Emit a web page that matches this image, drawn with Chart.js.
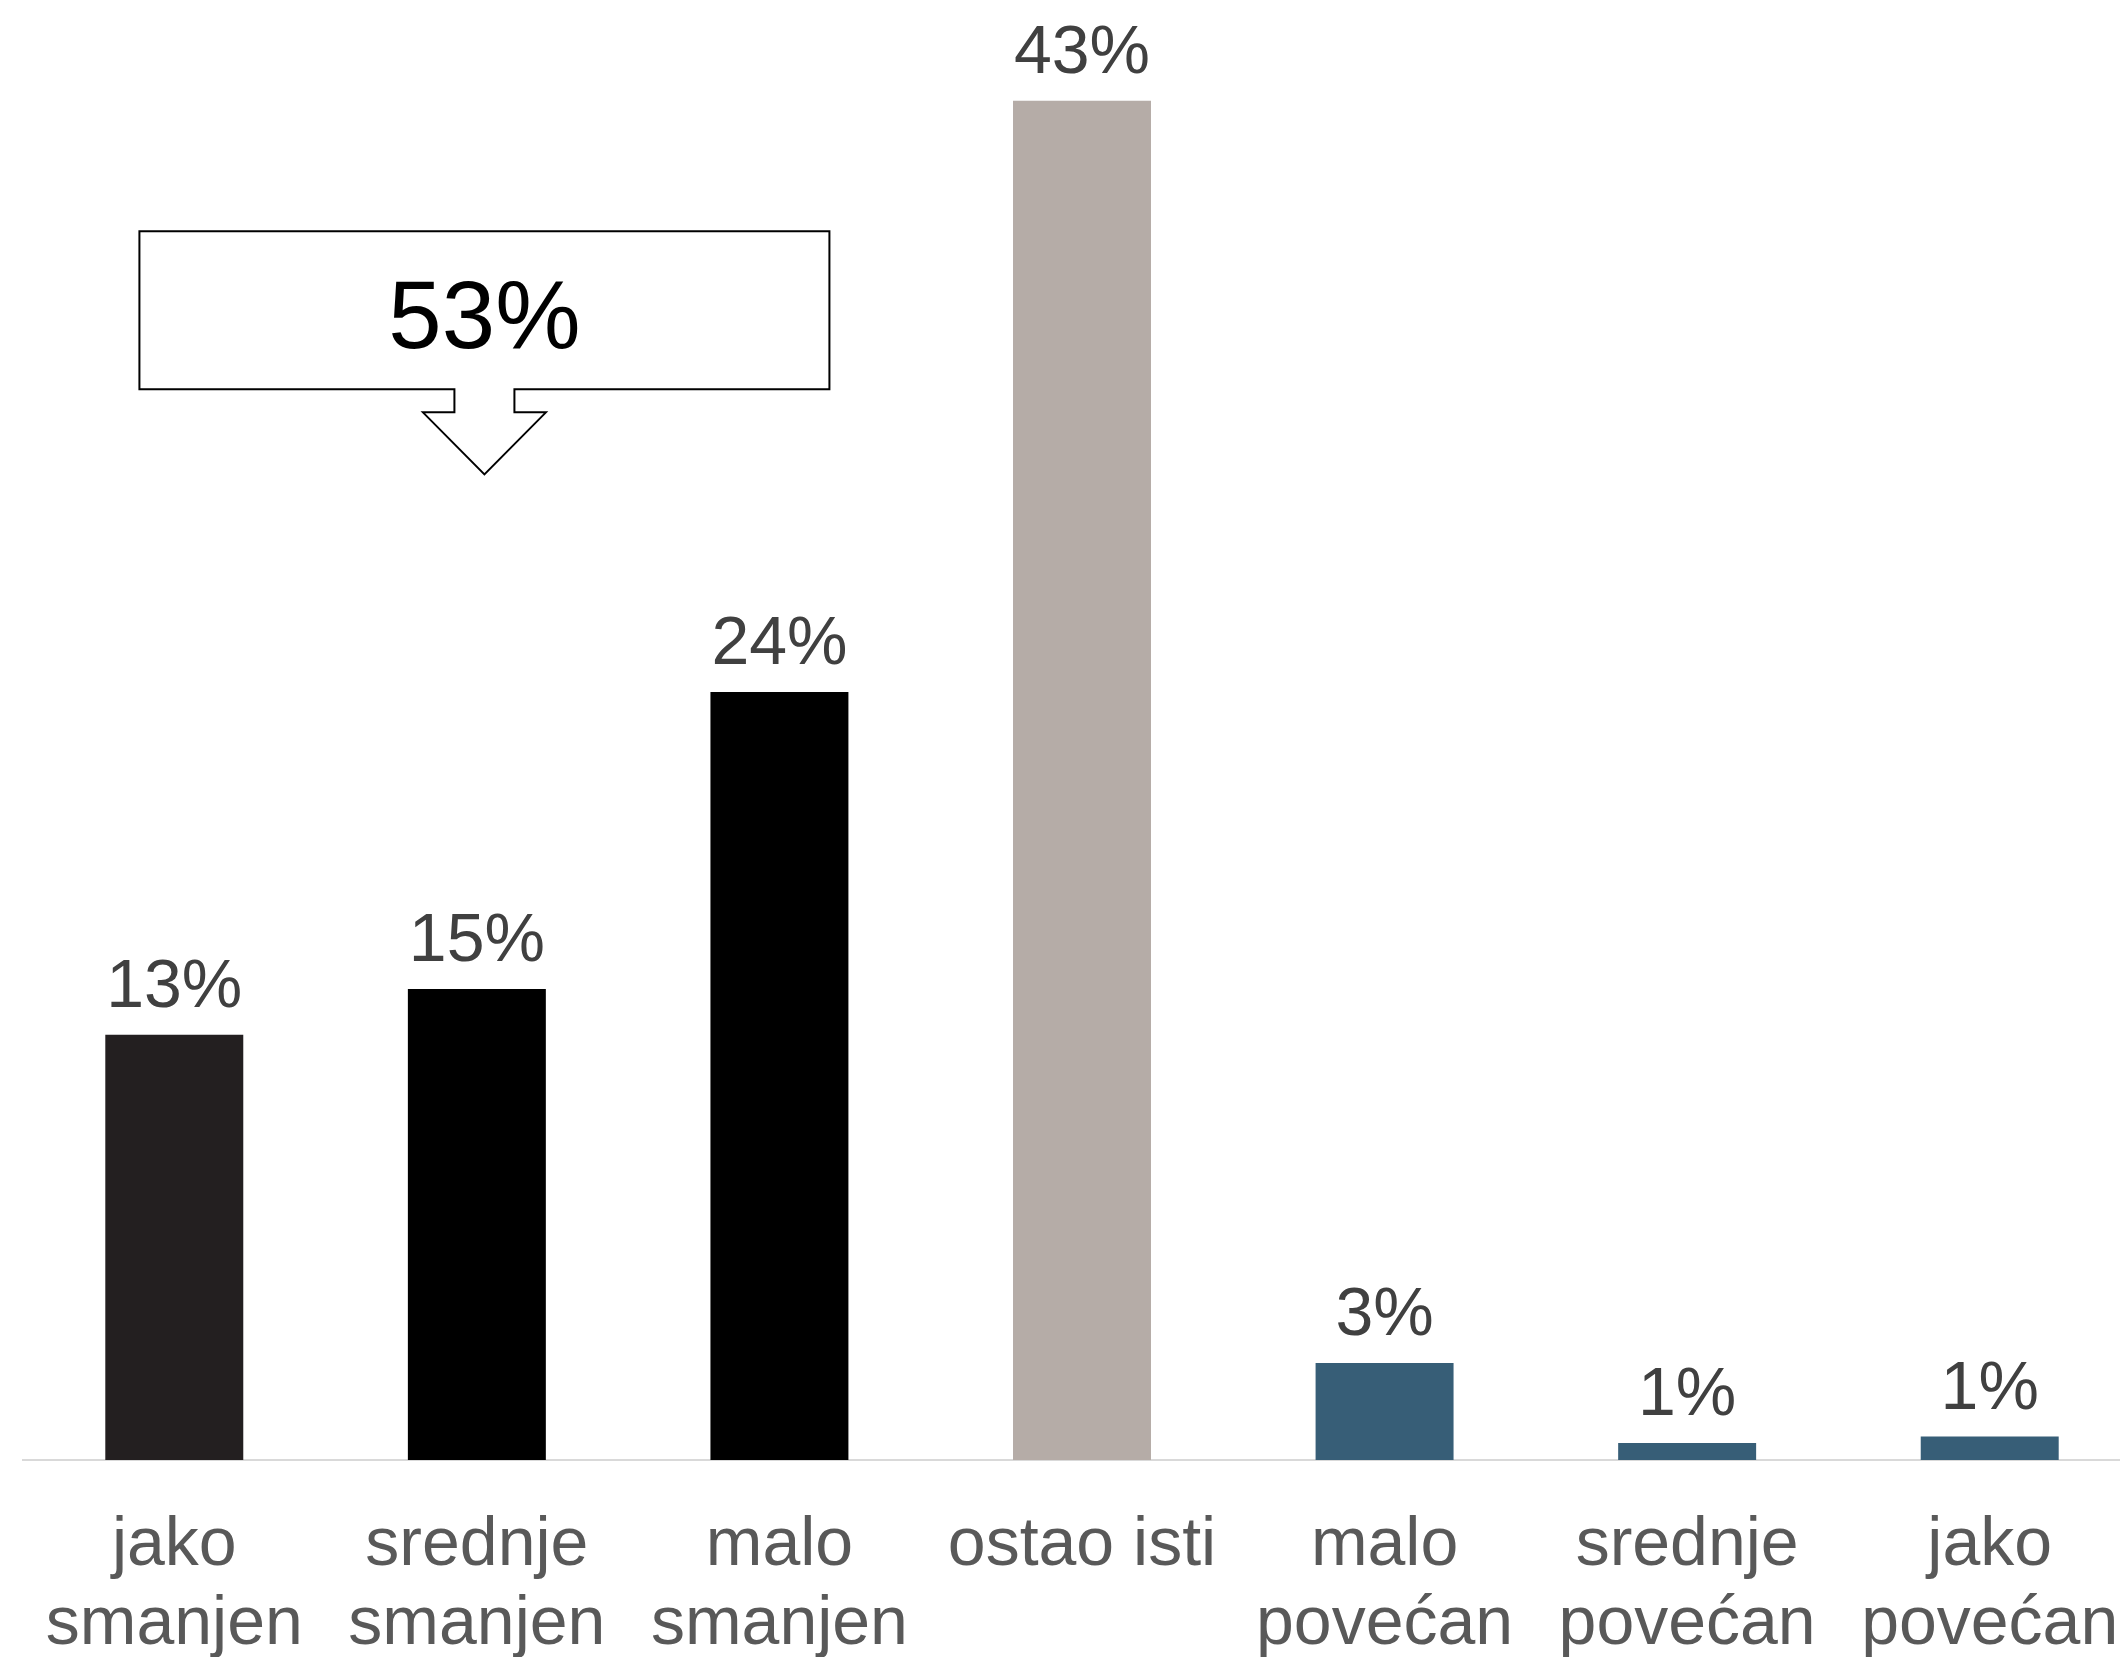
<!DOCTYPE html>
<html lang="hr">
<head>
    <meta charset="UTF-8">
    <title>Promjena</title>
    <script src="https://cdn.jsdelivr.net/npm/chart.js"></script>
    <style>
        html, body { margin: 0; padding: 0; overflow: hidden; background: #fff; }
        canvas { display: block; }
    </style>
</head>
<body>
    <canvas id="promjenaChart" width="2141" height="1690"></canvas>

    <script>
        // podaci
        const categories = [
            ['jako', 'smanjen'],
            ['srednje', 'smanjen'],
            ['malo', 'smanjen'],
            ['ostao isti'],
            ['malo', 'povećan'],
            ['srednje', 'povećan'],
            ['jako', 'povećan']
        ];
        const values = [13.45, 14.9, 24.3, 43, 3.07, 0.54, 0.74];
        const barColors = ['#231f20', '#000000', '#000000', '#b5aca7', '#375e77', '#375e77', '#375e77'];
        // koliko stupaca ulazi u zbroj u okviru (smanjen)
        const calloutGroup = [0, 1, 2];

        const fontFamily = '"Liberation Sans", Arial, sans-serif';

        // oznake vrijednosti iznad stupaca
        const valueLabels = {
            id: 'valueLabels',
            afterDatasetsDraw(chart) {
                const ctx = chart.ctx;
                const meta = chart.getDatasetMeta(0);
                ctx.save();
                ctx.font = '68px ' + fontFamily;
                ctx.fillStyle = '#404040';
                ctx.textAlign = 'center';
                ctx.textBaseline = 'alphabetic';
                meta.data.forEach((bar, i) => {
                    ctx.fillText(Math.round(values[i]) + '%', bar.x, bar.y - 28);
                });
                ctx.restore();
            }
        };

        // okvir sa strelicom (zbroj smanjenja)
        const calloutBox = {
            id: 'calloutBox',
            afterDraw(chart) {
                const ctx = chart.ctx;
                const xs = chart.scales.x;
                const ys = chart.scales.y;
                const total = calloutGroup.reduce((s, i) => s + values[i], 0);

                const cx = xs.getPixelForValue(1.025);
                const top = ys.getPixelForValue(38.87);
                const bottom = top + 158;
                const halfW = 345;
                const stemHalf = 30;
                const wingHalf = 61.5;
                const stemBottom = bottom + 23;
                const tip = bottom + 85;

                ctx.save();
                ctx.beginPath();
                ctx.moveTo(cx - halfW, top);
                ctx.lineTo(cx + halfW, top);
                ctx.lineTo(cx + halfW, bottom);
                ctx.lineTo(cx + stemHalf, bottom);
                ctx.lineTo(cx + stemHalf, stemBottom);
                ctx.lineTo(cx + wingHalf, stemBottom);
                ctx.lineTo(cx, tip);
                ctx.lineTo(cx - wingHalf, stemBottom);
                ctx.lineTo(cx - stemHalf, stemBottom);
                ctx.lineTo(cx - stemHalf, bottom);
                ctx.lineTo(cx - halfW, bottom);
                ctx.closePath();
                ctx.fillStyle = '#ffffff';
                ctx.fill();
                ctx.lineWidth = 2;
                ctx.strokeStyle = '#000000';
                ctx.stroke();

                ctx.font = '96px ' + fontFamily;
                ctx.fillStyle = '#000000';
                ctx.textAlign = 'center';
                ctx.textBaseline = 'alphabetic';
                ctx.fillText(Math.round(total) + '%', cx, top + 117);
                ctx.restore();
            }
        };

        const config = {
            type: 'bar',
            data: {
                labels: categories,
                datasets: [{
                    data: values,
                    backgroundColor: barColors,
                    borderWidth: 0,
                    categoryPercentage: 1,
                    barPercentage: 0.456
                }]
            },
            options: {
                responsive: false,
                devicePixelRatio: 1,
                animation: false,
                events: [],
                layout: {
                    padding: { top: 6, left: 23, right: 0, bottom: 0 }
                },
                plugins: {
                    legend: { display: false },
                    tooltip: { enabled: false }
                },
                scales: {
                    x: {
                        grid: { display: false, drawTicks: false },
                        border: { display: true, color: '#d9d9d9', width: 2 },
                        ticks: {
                            color: '#595959',
                            padding: 47,
                            maxRotation: 0,
                            autoSkip: false,
                            font: { family: fontFamily, size: 68, lineHeight: 1.16 }
                        },
                        afterFit(scale) {
                            // labels may run off the edges, like the original
                            scale.paddingLeft = 0;
                            scale.paddingRight = 0;
                            scale.height = 230;
                        }
                    },
                    y: {
                        display: false,
                        min: 0,
                        max: 46
                    }
                }
            },
            plugins: [valueLabels, calloutBox]
        };

        new Chart(document.getElementById('promjenaChart'), config);
    </script>
</body>
</html>
